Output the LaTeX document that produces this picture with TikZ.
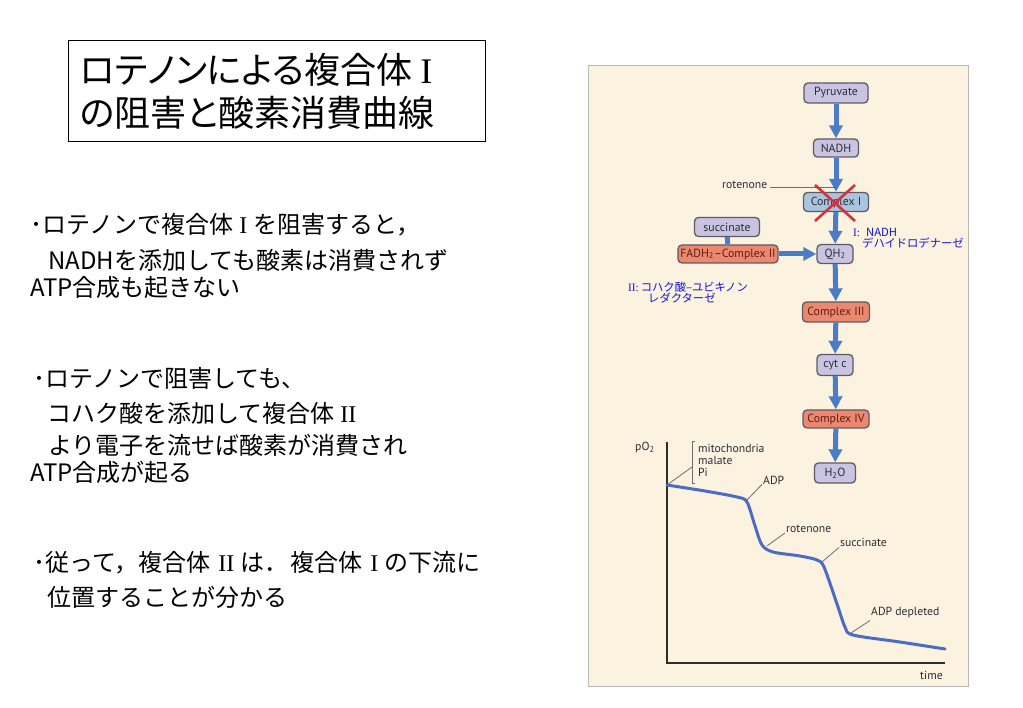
\documentclass[tikz,border=0pt]{standalone}
\usepackage{fontspec}
\setmainfont{Noto Sans CJK JP}
\newfontfamily\titlefont[RawFeature=+palt]{Noto Sans CJK JP}
\newfontfamily\figfont{PT Sans}
\newfontfamily\romfont{Liberation Serif}
\usetikzlibrary{arrows.meta,calc}
\definecolor{panelbg}{RGB}{251,242,224}
\definecolor{panelrule}{RGB}{185,185,185}
\definecolor{lavfill}{RGB}{200,196,226}
\definecolor{salfill}{RGB}{236,136,112}
\definecolor{cifill}{RGB}{168,196,222}
\definecolor{boxedge}{RGB}{95,90,100}
\definecolor{figtext}{RGB}{45,45,55}
\definecolor{saltext}{RGB}{95,30,20}
\definecolor{flowblue}{RGB}{74,124,200}
\definecolor{xred}{RGB}{214,50,60}
\definecolor{lblblue}{RGB}{20,20,210}
\definecolor{curveblue}{RGB}{76,108,196}
\definecolor{axisgray}{RGB}{45,45,45}
\definecolor{leadgray}{RGB}{110,110,110}
\tikzset{
  body/.style={anchor=west, inner sep=0pt, font=\fontsize{24}{28}\selectfont},
  ttl/.style={anchor=west, inner sep=0pt, font=\titlefont\fontsize{36}{40}\selectfont},
  lav/.style={draw=boxedge, fill=lavfill, rounded corners=4pt, line width=1.3pt,
    font=\figfont\fontsize{11.8}{12}\selectfont, text=figtext, inner sep=0pt},
  sal/.style={lav, fill=salfill, text=saltext},
  cib/.style={lav, fill=cifill},
  flow/.style={line width=5pt, draw=flowblue, -{Triangle[width=13pt,length=13pt]}},
  bar/.style={line width=5pt, draw=flowblue},
  figlbl/.style={anchor=west, inner sep=0pt, text=figtext, font=\figfont\fontsize{11.7}{12}\selectfont},
  blbl/.style={anchor=west, inner sep=0pt, text=lblblue, font=\fontsize{11.3}{12}\selectfont},
  lead/.style={draw=leadgray, line width=0.8pt},
  axisline/.style={draw=axisgray, line width=1.8pt},
  curve/.style={draw=curveblue, line width=3pt, line cap=round, line join=round},
}
\begin{document}
\begin{tikzpicture}[x=1pt,y=-1pt]
\useasboundingbox (0,0) rectangle (1023,708);
\fill[white] (0,0) rectangle (1023,708);

% ---------- title ----------
\node[draw=black, line width=0.9pt, minimum width=417pt, minimum height=101pt, anchor=north west, inner sep=0pt] (titlebox) at (68,40) {};
\node[ttl] (t1) at (80,70) {ロテノンによる複合体\hspace{8pt}{\romfont I}};
\node[ttl] (t2) at (80,113) {の阻害と酸素消費曲線};

% ---------- body text ----------
\node[body] (a1) at (30,225) {･ロテノンで複合体\hspace{6pt}{\romfont I}\hspace{6pt}を阻害すると，};
\node[body] (a2) at (48,260) {NADHを添加しても酸素は消費されず};
\node[body] (a3) at (30,287) {ATP合成も起きない};

\node[body] (b1) at (33,378) {･ロテノンで阻害しても、};
\node[body] (b2) at (47,413) {コハク酸を添加して複合体\hspace{6pt}{\romfont II}};
\node[body] (b3) at (48,445) {より電子を流せば酸素が消費され};
\node[body] (b4) at (30,472) {ATP合成が起る};

\node[body] (c1t) at (33,563) {･従って，複合体\hspace{8pt}{\romfont II}\hspace{6pt}は．\hspace{2pt}複合体\hspace{8pt}{\romfont I}\hspace{6pt}の下流に};
\node[body] (c2t) at (47,597) {位置することが分かる};

% ---------- right panel ----------
\node[draw=panelrule, fill=panelbg, line width=0.9pt, minimum width=380pt, minimum height=621pt, anchor=north west, inner sep=0pt] (panel) at (588,65) {};

\node[lav, minimum width=64pt, minimum height=20pt] (pyr) at (836,93) {Pyruvate};
\node[lav, minimum width=45pt, minimum height=18pt] (nadh) at (836,148) {NADH};
\node[cib, minimum width=65pt, minimum height=19pt] (c1) at (836,202) {Complex I};
\node[lav, minimum width=65pt, minimum height=19pt] (succ) at (727,227) {succinate};
\node[sal, minimum width=100pt, minimum height=18pt] (fadh) at (728,254) {FADH\textsubscript{2}–Complex II};
\node[lav, minimum width=36pt, minimum height=19pt] (qh) at (835,254) {QH\textsubscript{2}};
\node[sal, minimum width=67pt, minimum height=20pt] (c3) at (836,312) {Complex III};
\node[lav, minimum width=36pt, minimum height=21pt] (cyt) at (835,365) {cyt c};
\node[sal, minimum width=66pt, minimum height=18pt] (c4) at (836,419) {Complex IV};
\node[lav, minimum width=41pt, minimum height=20pt] (h2o) at (835,473) {H\textsubscript{2}O};

\draw[flow] (pyr) -- (nadh);
\draw[flow] (nadh) -- (c1);
\draw[flow] (c1) -- (qh);
\draw[bar] (succ) -- (fadh);
\draw[flow] (fadh) -- (qh);
\draw[flow] (qh) -- (c3);
\draw[flow] (c3) -- (cyt);
\draw[flow] (cyt) -- (c4);
\draw[flow] (c4) -- (h2o);

% rotenone block
\node[figlbl] (rot) at (722,185) {rotenone};
\coordinate (rotend) at (837,187);
\draw[lead, line width=0.6pt] ($(rot.east)+(3,2)$) -- (rotend);
\draw[xred, line width=2.6pt] ($(c1)+(-21,-17)$) -- ($(c1)+(19,19)$);
\draw[xred, line width=2.6pt] ($(c1)+(19,-17)$) -- ($(c1)+(-21,19)$);

% blue annotations
\node[blbl] (l1a) at (853,232) {{\romfont I:}\hspace{6pt}NADH};
\node[blbl] (l1b) at (862,243) {デハイドロデナーゼ};
\node[blbl] (l2a) at (628,287) {{\romfont II:}\hspace{2pt}コハク酸–ユビキノン};
\node[blbl] (l2b) at (648,298) {レダクターゼ};

% ---------- oxygen graph ----------
\coordinate (ytop) at (667,442);
\coordinate (orig) at (667,663);
\coordinate (xend) at (945,663);
\draw[axisline] (ytop) -- (orig) -- (xend);
\node[figlbl] (po2) at (635,448) {pO\textsubscript{2}};
\node[figlbl] (time) at (920,675) {time};

\draw[leadgray, line width=0.8pt] (695,441) -- (692,441) -- (692,483) -- (695,483);
\node[figlbl] (mito) at (698,448) {mitochondria};
\node[figlbl] (mal) at (698,460) {malate};
\node[figlbl] (pi) at (698,472) {Pi};

\coordinate (k0) at (667,485);
\coordinate (k1) at (747,500);
\coordinate (k2) at (767,546);
\coordinate (k3) at (822,562);
\coordinate (k4) at (851,633);
\draw[curve] plot[smooth, tension=0.5] coordinates {(667,485) (705,491) (737,497) (747,502) (755,526) (762,545) (773,552) (800,556) (817,560) (824,567) (837,604) (845,627) (853,635) (900,642) (945,649)};

\coordinate (bk) at (692,467);
\draw[lead] (k0) -- (bk);
\node[figlbl] (adp) at (763,480) {ADP};
\draw[lead] (k1) -- ($(adp.south west)+(-1,0)$);
\node[figlbl] (rot2) at (786,529) {rotenone};
\draw[lead] (k2) -- ($(rot2.south west)+(-1,0)$);
\node[figlbl] (suc2) at (840,542) {succinate};
\draw[lead] (k3) -- ($(suc2.south west)+(-1,1)$);
\node[figlbl] (adpd) at (871,613) {ADP depleted};
\draw[lead] (k4) -- ($(adpd.south west)+(-1,2)$);
\end{tikzpicture}
\end{document}
